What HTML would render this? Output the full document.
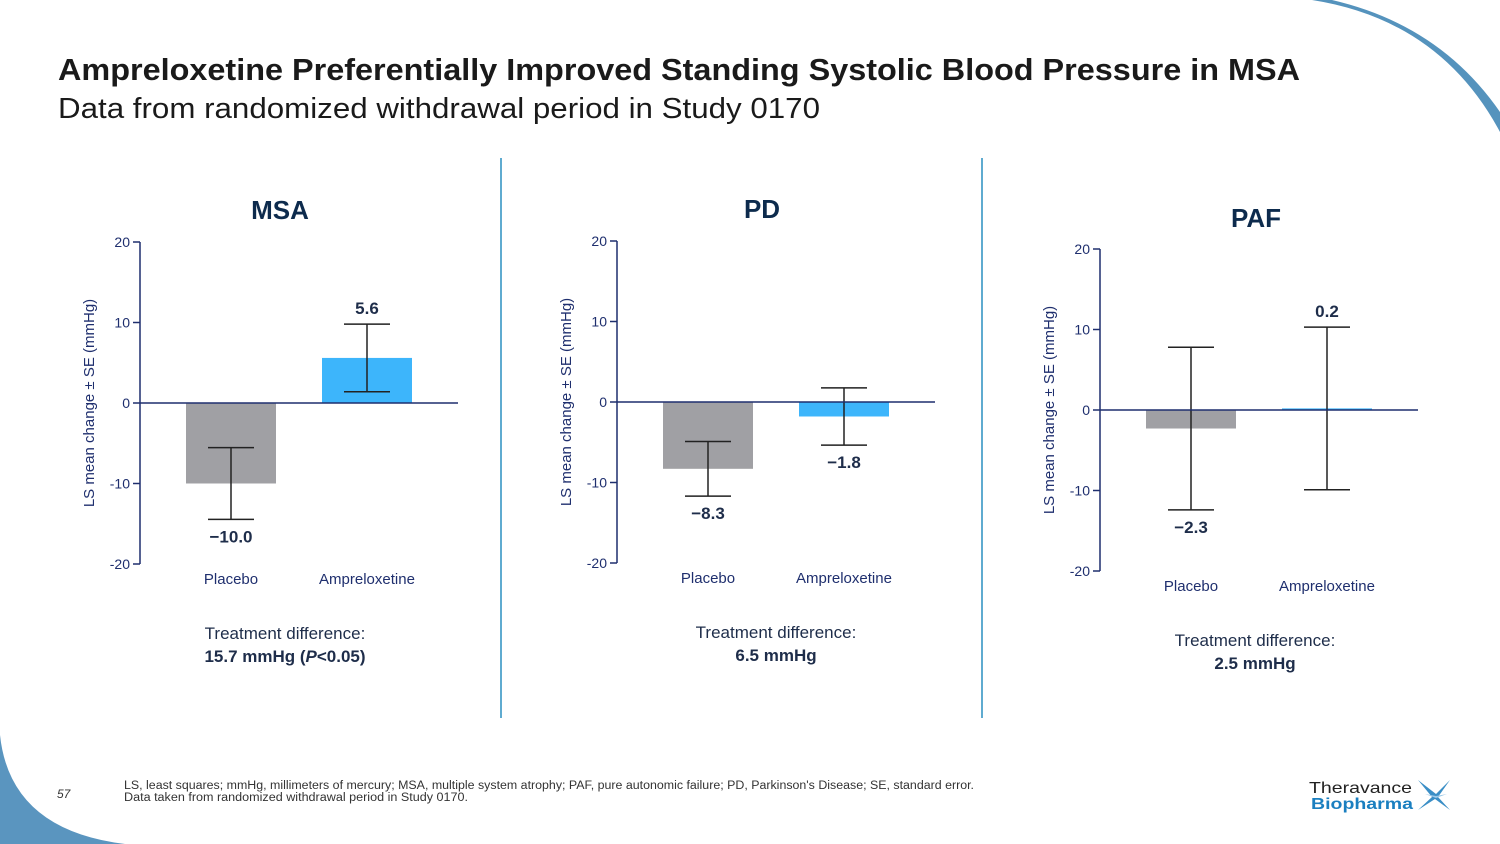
<!DOCTYPE html>
<html><head><meta charset="utf-8"><style>
body{margin:0;width:1500px;height:844px;overflow:hidden;background:#fff;font-family:"Liberation Sans",sans-serif}
svg{position:absolute;left:0;top:0}
</style></head><body>
<svg width="1500" height="844">
<path d="M1312,0 Q1440,20 1500,132 L1500,112 Q1440,25 1332,0 Z" fill="#5593bd"/>
<path d="M0,735 Q10,830 125,844 L0,844 Z" fill="#5a95bf"/>
<text x="58" y="80" font-size="31" font-weight="bold" fill="#1a1a1a" textLength="1242" lengthAdjust="spacingAndGlyphs">Ampreloxetine Preferentially Improved Standing Systolic Blood Pressure in MSA</text>
<text x="58" y="118" font-size="29" fill="#1a1a1a" textLength="762" lengthAdjust="spacingAndGlyphs">Data from randomized withdrawal period in Study 0170</text>
<line x1="501" y1="158" x2="501" y2="718" stroke="#2a8fc0" stroke-width="1.5"/>
<line x1="982" y1="158" x2="982" y2="718" stroke="#2a8fc0" stroke-width="1.5"/>
<g id="charts"></g>
<text x="57" y="798" font-size="12" font-style="italic" fill="#333">57</text>
<text x="124" y="789" font-size="11.5" fill="#333" textLength="850" lengthAdjust="spacingAndGlyphs">LS, least squares; mmHg, millimeters of mercury; MSA, multiple system atrophy; PAF, pure autonomic failure; PD, Parkinson's Disease; SE, standard error.</text>
<text x="124" y="801" font-size="11.5" fill="#333" textLength="344" lengthAdjust="spacingAndGlyphs">Data taken from randomized withdrawal period in Study 0170.</text>
<g>
<text x="1309" y="793" font-size="16" fill="#222" textLength="103" lengthAdjust="spacingAndGlyphs">Theravance</text>
<text x="1311" y="809" font-size="16" font-weight="bold" fill="#1a7fc0" textLength="102" lengthAdjust="spacingAndGlyphs">Biopharma</text>
<path d="M1418,780 L1436,794 L1450,780 L1438,797 L1450,810 L1435,799 L1418,810 L1432,797 Z" fill="#3a8ec6"/>
<path d="M1425,794 L1436,796 L1447,794 L1436,798 Z" fill="#9cc9e8"/>
</g>
</svg>
<script>
const panels = ["MSA","PD","PAF"];
const categories = ["Placebo","Ampreloxetine"];
const placeboValues = [-10.0, -8.3, -2.3];
const amprelValues = [5.6, -1.8, 0.2];
const placeboErrors = [4.45, 3.4, 10.1];
const amprelErrors = [4.2, 3.55, 10.1];
const yTicks = [20, 10, 0, -10, -20];
const diffLines = [["Treatment difference:","15.7 mmHg (P<0.05)"],["Treatment difference:","6.5 mmHg"],["Treatment difference:","2.5 mmHg"]];
const layout = [{ax:140,y0:403,tx:280,ty:219,dx:285},{ax:617,y0:402,tx:762,ty:218,dx:776},{ax:1100,y0:410,tx:1256,ty:227,dx:1255}];
const NS="http://www.w3.org/2000/svg";
const root=document.getElementById('charts');
function mk(tag,attrs,parent){const e=document.createElementNS(NS,tag);for(const k in attrs)e.setAttribute(k,attrs[k]);(parent||root).appendChild(e);return e;}
const unit=8.05, navy="#1f2f6e";
panels.forEach((p,i)=>{
  const L=layout[i];
  const y=v=>L.y0-v*unit;
  const g=mk('g',{});
  
  
  const t=mk('text',{x:L.tx,y:L.ty,'font-size':26,'font-weight':'bold',fill:'#0d2b4d','text-anchor':'middle'},g);t.textContent=p;
  
  
  const ax=mk('line',{x1:L.ax,y1:y(20),x2:L.ax,y2:y(-20),stroke:navy,'stroke-width':1.5},g);
  
  
  yTicks.forEach(v=>{
    mk('line',{x1:L.ax-7,y1:y(v),x2:L.ax,y2:y(v),stroke:navy,'stroke-width':1.5},g);
    const tl=mk('text',{x:L.ax-10,y:y(v)+5,'font-size':14,fill:navy,'text-anchor':'end'},g);tl.textContent=v;
    
    
  });
  const yt=mk('text',{x:0,y:0,'font-size':15,fill:navy,'text-anchor':'middle',transform:`translate(${L.ax-46},${y(0)}) rotate(-90)`},g);
  yt.textContent="LS mean change ± SE (mmHg)";
  
  
  const vals=[placeboValues[i],amprelValues[i]], errs=[placeboErrors[i],amprelErrors[i]], cols=["#a0a0a4","#3db5fb"];
  vals.forEach((v,j)=>{
    const cx=L.ax+91+j*136;
    const b=mk('rect',{x:cx-45,y:Math.min(y(0),y(v)),width:90,height:Math.abs(y(v)-y(0)),fill:cols[j]},g);
    
    
    const hi=y(v+errs[j]), lo=y(v-errs[j]);
    const eb=mk('path',{d:`M${cx},${hi}V${lo}M${cx-23},${hi}H${cx+23}M${cx-23},${lo}H${cx+23}`,stroke:'#222','stroke-width':1.5,fill:'none'},g);
    
    
    const ly=v>=0?hi-10:lo+23;
    const vl=mk('text',{x:cx,y:ly,'font-size':17,'font-weight':'bold',fill:'#1e2d4a','text-anchor':'middle'},g);
    vl.textContent=(v<0?'−':'')+Math.abs(v).toFixed(1);
    
    
    const cl=mk('text',{x:cx,y:y(-20)+20,'font-size':15,fill:navy,'text-anchor':'middle'},g);cl.textContent=categories[j];
    
    
  });
  const zl=mk('line',{x1:L.ax,y1:y(0),x2:L.ax+318,y2:y(0),stroke:navy,'stroke-width':1.5},g);
  
  
  const cx=L.dx, dy=y(-20)+75;
  const d1=mk('text',{x:cx,y:dy,'font-size':17,fill:'#1e2d4a','text-anchor':'middle'},g);d1.textContent=diffLines[i][0];
  
  
  const d2=mk('text',{x:cx,y:dy+23,'font-size':17,'font-weight':'bold',fill:'#1e2d4a','text-anchor':'middle'},g);
  
  
  const s=diffLines[i][1], m=s.match(/^(.*\()P(.*)$/);
  if(m){const a=mk('tspan',{},d2);a.textContent=m[1];const b=mk('tspan',{'font-style':'italic'},d2);b.textContent='P';const c=mk('tspan',{},d2);c.textContent=m[2];}
  else d2.textContent=s;
});
</script>
</body></html>
